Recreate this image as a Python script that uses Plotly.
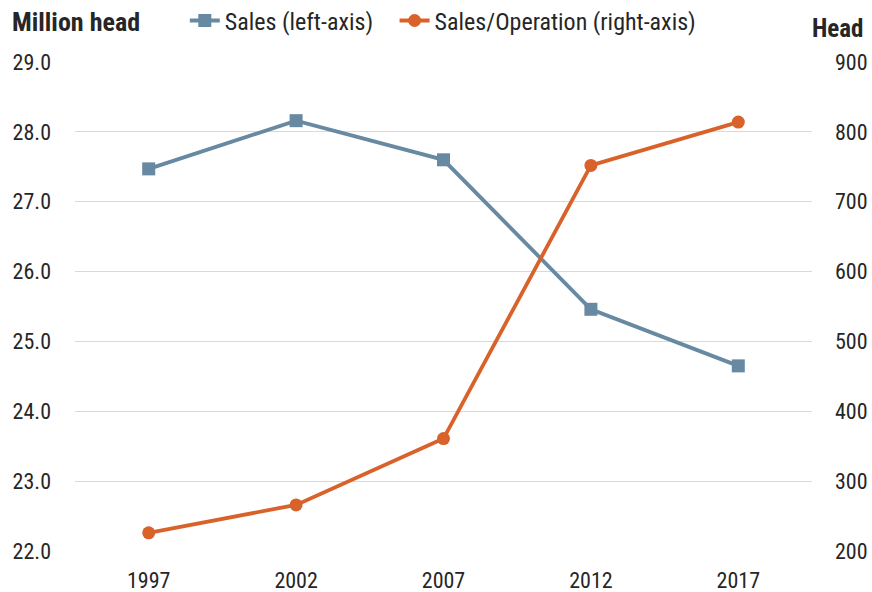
import plotly.graph_objects as go

years = ["1997", "2002", "2007", "2012", "2017"]
sales = [27.47, 28.16, 27.60, 25.46, 24.65]
sales_per_op = [226, 266, 361, 752, 814]

left_ticks = [22, 23, 24, 25, 26, 27, 28, 29]
right_ticks = [200, 300, 400, 500, 600, 700, 800, 900]

BLUE = "#6789A2"
ORANGE = "#D9622B"
FONT = "Roboto Condensed, sans-serif"
TXT = "#262626"

fig = go.Figure()
fig.add_trace(go.Scatter(
    x=years, y=sales, name="Sales (left-axis)\u00a0\u00a0\u00a0", mode="lines+markers",
    line=dict(color=BLUE, width=3.8),
    marker=dict(symbol="square", size=13, color=BLUE),
    yaxis="y"))
fig.add_trace(go.Scatter(
    x=years, y=sales_per_op, name="Sales/Operation (right-axis)", mode="lines+markers",
    line=dict(color=ORANGE, width=3.8),
    marker=dict(symbol="circle", size=13, color=ORANGE),
    yaxis="y2"))

fig.update_layout(
    width=872, height=592,
    margin=dict(l=75, r=60, t=62, b=41, autoexpand=False),
    plot_bgcolor="white", paper_bgcolor="white",
    font=dict(family=FONT, size=22, color=TXT),
    showlegend=True,
    legend=dict(orientation="h", x=0.149, xanchor="left", y=1.084, yanchor="middle",
                font=dict(size=24, color=TXT), itemwidth=30, tracegroupgap=0,
                bgcolor="rgba(0,0,0,0)", traceorder="normal"),
    xaxis=dict(type="category", range=[-0.5, 4.5], showgrid=False, showline=False,
               ticks="", tickfont=dict(size=22), ticklabelstandoff=14),
    yaxis=dict(range=[22, 29], tickvals=left_ticks,
               ticktext=[f"{v:.1f}" for v in left_ticks],
               showgrid=True, gridcolor="#D9D9D9", gridwidth=1.3,
               zeroline=False, showline=False, ticks="", ticklabelstandoff=23),
    yaxis2=dict(range=[200, 900], tickvals=right_ticks, overlaying="y", side="right",
                showgrid=False, zeroline=False, showline=False, ticks="",
                ticklabelstandoff=22),
    annotations=[
        dict(text="<b>Million head</b>", xref="paper", yref="paper", x=-0.088, y=1.082,
             xanchor="left", yanchor="middle", showarrow=False,
             font=dict(size=26, color=TXT, family=FONT)),
        dict(text="<b>Head</b>", xref="paper", yref="paper", x=1.072, y=1.0695,
             xanchor="right", yanchor="middle", showarrow=False,
             font=dict(size=25, color=TXT, family=FONT)),
    ],
)

fig.write_html("out.html", config={"displayModeBar": False},
               post_script="document.body.style.margin='0';document.body.style.padding='0';")
